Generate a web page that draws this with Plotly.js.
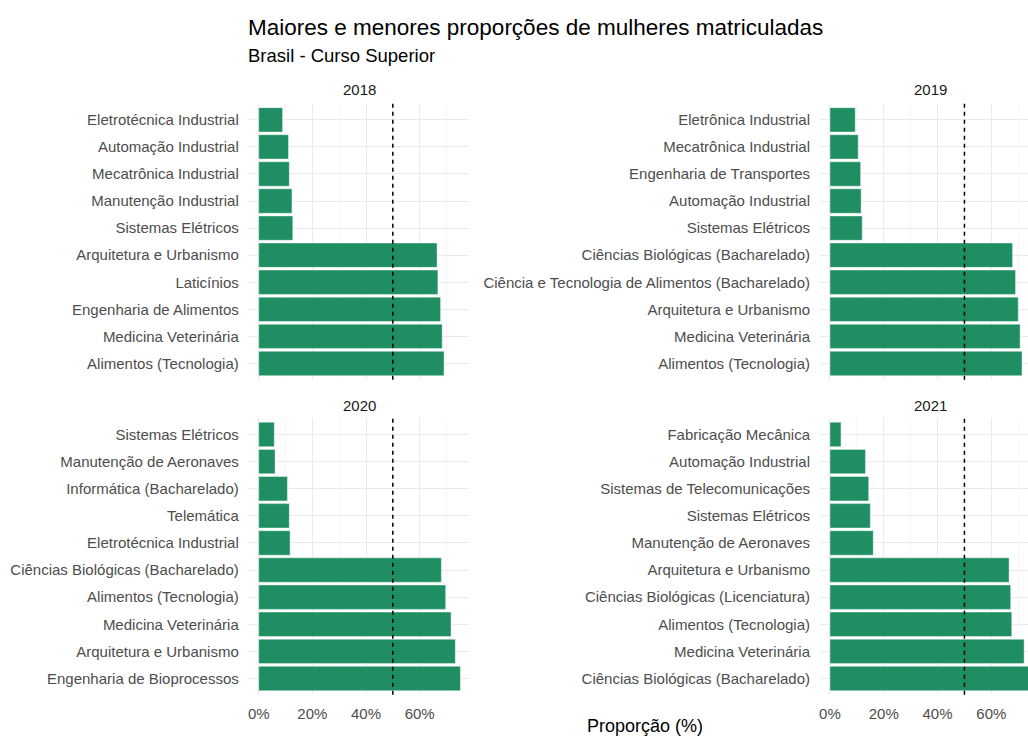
<!DOCTYPE html>
<html>
<head>
<meta charset="utf-8">
<script src="https://cdn.plot.ly/plotly-3.0.1.min.js"></script>
<style>html,body{margin:0;padding:0;background:#fff;}#chart{width:1028px;height:738px;}</style>
</head>
<body>
<div id="chart"></div>
<script>
// Categories listed top to bottom
const cat2018 = ["Eletrotécnica Industrial","Automação Industrial","Mecatrônica Industrial","Manutenção Industrial","Sistemas Elétricos","Arquitetura e Urbanismo","Laticínios","Engenharia de Alimentos","Medicina Veterinária","Alimentos (Tecnologia)"];
const val2018 = [8.9, 11.1, 11.4, 12.4, 12.7, 66.5, 66.8, 67.8, 68.4, 69.1];

const cat2019 = ["Eletrônica Industrial","Mecatrônica Industrial","Engenharia de Transportes","Automação Industrial","Sistemas Elétricos","Ciências Biológicas (Bacharelado)","Ciência e Tecnologia de Alimentos (Bacharelado)","Arquitetura e Urbanismo","Medicina Veterinária","Alimentos (Tecnologia)"];
const val2019 = [9.4, 10.5, 11.4, 11.6, 12.0, 67.9, 69.0, 70.0, 70.7, 71.4];

const cat2020 = ["Sistemas Elétricos","Manutenção de Aeronaves","Informática (Bacharelado)","Telemática","Eletrotécnica Industrial","Ciências Biológicas (Bacharelado)","Alimentos (Tecnologia)","Medicina Veterinária","Arquitetura e Urbanismo","Engenharia de Bioprocessos"];
const val2020 = [5.8, 6.1, 10.7, 11.4, 11.7, 68.1, 69.7, 71.7, 73.3, 75.2];

const cat2021 = ["Fabricação Mecânica","Automação Industrial","Sistemas de Telecomunicações","Sistemas Elétricos","Manutenção de Aeronaves","Arquitetura e Urbanismo","Ciências Biológicas (Licenciatura)","Alimentos (Tecnologia)","Medicina Veterinária","Ciências Biológicas (Bacharelado)"];
const val2021 = [4.1, 13.2, 14.4, 15.0, 16.1, 66.6, 67.2, 67.6, 72.2, 75.5];

const years = ["2018","2019","2020","2021"];
const xTickVals = [0, 20, 40, 60];
const xTickText = ["0%","20%","40%","60%"];
const refLine = 50;

const W = 1028, H = 738;
const px = v => v / W;
const py = v => 1 - v / H;

const barColor = "rgb(31,143,99)";
const font = "Liberation Sans, Arial, Helvetica, sans-serif";

const cats = [cat2018, cat2019, cat2020, cat2021];
const vals = [val2018, val2019, val2020, val2021];

const data = cats.map((c, i) => ({
  type: "bar",
  orientation: "h",
  x: vals[i],
  y: c,
  xaxis: i === 0 ? "x" : "x" + (i + 1),
  yaxis: i === 0 ? "y" : "y" + (i + 1),
  width: 0.9,
  marker: {color: barColor, line: {color: "rgba(255,255,255,0.7)", width: 0.6}},
  hoverinfo: "x+y",
  showlegend: false
}));

const leftDom = [px(248.8), px(469)];
const rightDom = [px(820), 1];
const topDom = [py(379.7), py(103.6)];
const botDom = [py(694.8), py(418.2)];

function xa(dom, anchor, range, showLabels) {
  return {
    domain: dom, anchor: anchor, range: range, autorange: false,
    tickmode: "array", tickvals: xTickVals, ticktext: xTickText,
    showticklabels: showLabels,
    ticks: "outside", ticklen: 5, tickcolor: "rgba(0,0,0,0)",
    tickfont: {family: font, size: 15, color: "#4D4D4D"},
    showgrid: true, gridcolor: "#EBEBEB", gridwidth: 1,
    minor: {tickmode: "array", tickvals: [10, 30, 50, 70], showgrid: true, gridcolor: "#F2F2F2", gridwidth: 0.6, ticks: ""},
    zeroline: false, showline: false, fixedrange: true
  };
}
function ya(dom, anchor) {
  return {
    domain: dom, anchor: anchor, type: "category",
    range: [9.6, -0.6], autorange: false,
    ticks: "outside", ticklen: 6, tickcolor: "rgba(0,0,0,0)",
    tickfont: {family: font, size: 15, color: "#4D4D4D"},
    showgrid: true, gridcolor: "#EBEBEB", gridwidth: 1,
    zeroline: false, showline: false, fixedrange: true
  };
}

const leftRange = [-3.7, 78.4];
const rightRange = [-3.7, 73.63];

const shapes = ["x", "x2", "x3", "x4"].map((xr, i) => ({
  type: "line", xref: xr, yref: (i === 0 ? "y" : "y" + (i + 1)) + " domain",
  x0: refLine, x1: refLine, y0: 0, y1: 1,
  line: {color: "#000", width: 1.5, dash: "4px,4px"}
}));

const stripPos = [[359, 89], [930.5, 89], [359, 405], [930.5, 405]];
const annotations = years.map((yr, i) => ({
  text: yr, xref: "paper", yref: "paper",
  x: px(stripPos[i][0]), y: py(stripPos[i][1]),
  xanchor: "center", yanchor: "middle", showarrow: false,
  font: {family: font, size: 15, color: "#1A1A1A"}
}));
annotations.push({
  text: "Brasil - Curso Superior", xref: "paper", yref: "paper",
  x: px(246), y: py(55), xanchor: "left", yanchor: "middle", showarrow: false,
  font: {family: font, size: 18.5, color: "#000"}
});
annotations.push({
  text: "Proporção (%)", xref: "paper", yref: "paper",
  x: px(645), y: py(726), xanchor: "center", yanchor: "middle", showarrow: false,
  font: {family: font, size: 18, color: "#000"}
});

const layout = {
  width: W, height: H,
  margin: {l: 0, r: 0, t: 0, b: 0, pad: 0},
  paper_bgcolor: "#fff", plot_bgcolor: "rgba(0,0,0,0)",
  font: {family: font},
  title: {
    text: "Maiores e menores proporções de mulheres matriculadas",
    xref: "paper", yref: "container", x: px(248), xanchor: "left",
    y: py(27), yanchor: "middle",
    font: {family: font, size: 22.5, color: "#000"}
  },
  xaxis: xa(leftDom, "y", leftRange, false),
  yaxis: ya(topDom, "x"),
  xaxis2: xa(rightDom, "y2", rightRange, false),
  yaxis2: ya(topDom, "x2"),
  xaxis3: xa(leftDom, "y3", leftRange, true),
  yaxis3: ya(botDom, "x3"),
  xaxis4: xa(rightDom, "y4", rightRange, true),
  yaxis4: ya(botDom, "x4"),
  shapes: shapes,
  annotations: annotations,
  bargap: 0.1
};

Plotly.newPlot("chart", data, layout, {displayModeBar: false, staticPlot: true});
</script>
</body>
</html>
